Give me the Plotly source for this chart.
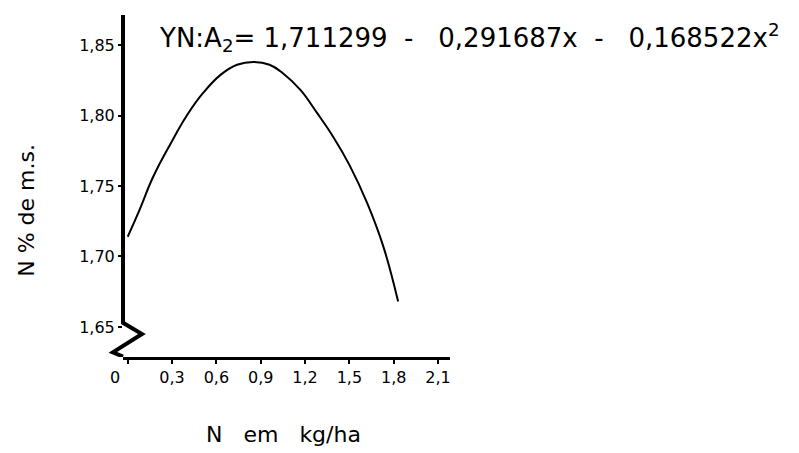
import plotly.graph_objects as go

# Values
n_kg_ha = [0.00, 0.08, 0.17, 0.29, 0.40, 0.51, 0.63, 0.74, 0.85, 0.96,
           1.05, 1.17, 1.28, 1.39, 1.50, 1.62, 1.73, 1.83]
n_pct = [1.714, 1.733, 1.756, 1.780, 1.800, 1.816, 1.829, 1.836, 1.838, 1.836,
         1.830, 1.818, 1.802, 1.785, 1.765, 1.738, 1.707, 1.668]

x_ticks = [0, 0.3, 0.6, 0.9, 1.2, 1.5, 1.8, 2.1]
x_tick_text = ["0\u00a0\u00a0\u00a0\u00a0\u00a0", "0,3", "0,6", "0,9", "1,2", "1,5", "1,8", "2,1"]
y_ticks = [1.65, 1.70, 1.75, 1.80, 1.85]

sp = "\u00a0"
equation = ("YN:A<sub>2</sub>=" + sp + "1,711299" + sp * 2 + "-" + sp * 3 + "0,291687x"
            + sp * 2 + "-" + sp * 3 + "0,168522x<sup>2</sup>")

fig = go.Figure()
fig.add_trace(go.Scatter(
    x=n_kg_ha, y=n_pct, mode="lines",
    line=dict(color="black", width=2, shape="spline", smoothing=1.2),
    showlegend=False, hoverinfo="skip",
))

font_main = "DejaVu Sans"

fig.update_layout(
    width=799, height=453,
    margin=dict(l=123, r=349, t=15, b=96),
    paper_bgcolor="white", plot_bgcolor="white",
    separators=",.",
    font=dict(family=font_main, color="black", size=16),
    xaxis=dict(
        range=[-0.032, 2.181], tickvals=x_ticks, ticktext=x_tick_text,
        showgrid=False, zeroline=False,
        showline=True, linecolor="black", linewidth=3,
        ticks="outside", ticklen=4, tickwidth=2, tickcolor="black",
        tickfont=dict(size=16, family=font_main),
    ),
    yaxis=dict(
        range=[1.6287, 1.8713], tickvals=y_ticks, tickformat=".2f",
        showgrid=False, zeroline=False, showline=False,
        ticks="outside", ticklen=4, tickwidth=2, tickcolor="black",
        tickfont=dict(size=16, family=font_main),
    ),
    shapes=[
        dict(type="path", xref="paper", yref="y",
             path="M 0,1.8713 L 0,1.653 L 0.058,1.645 L -0.031,1.632 L 0,1.629",
             line=dict(color="black", width=4)),
    ],
    annotations=[
        dict(text=equation, xref="paper", yref="paper", x=0.104, y=0.935,
             xanchor="left", yanchor="middle", showarrow=False,
             font=dict(size=26, family=font_main)),
        dict(text="N" + sp * 3 + "em" + sp * 3 + "kg/ha", xref="paper", yref="paper",
             x=0.491, y=-0.228, xanchor="center", yanchor="middle",
             showarrow=False, font=dict(size=22, family=font_main)),
        dict(text="N" + sp + "%" + sp + "de" + sp + "m.s.", xref="paper", yref="paper",
             x=-0.294, y=0.43, xanchor="center", yanchor="middle",
             textangle=-90, showarrow=False, font=dict(size=22, family=font_main)),
    ],
)

fig.write_html("out.html")
